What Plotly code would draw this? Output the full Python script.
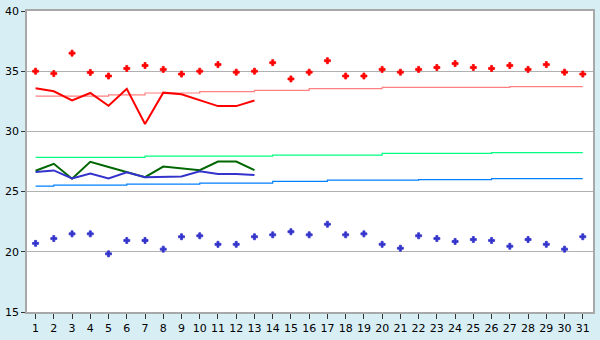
import plotly.graph_objects as go

days = list(range(1, 32))
day_labels = [str(d) for d in days]

red_pts = [35.0, 34.8, 36.5, 34.9, 34.6, 35.23, 35.47, 35.15, 34.76, 35.0,
           35.55, 34.92, 35.0, 35.71, 34.36, 34.92, 35.87, 34.6, 34.6, 35.15,
           34.92, 35.15, 35.31, 35.63, 35.31, 35.23, 35.47, 35.15, 35.55, 34.92, 34.76]
blue_pts = [20.70, 21.1, 21.49, 21.49, 19.83, 20.94, 20.94, 20.22, 21.25, 21.33,
            20.62, 20.62, 21.25, 21.41, 21.67, 21.41, 22.29, 21.41, 21.49, 20.62,
            20.30, 21.33, 21.1, 20.86, 21.02, 20.94, 20.46, 21.02, 20.62, 20.22, 21.25]

line_days = list(range(1, 14))
red_line = [33.59, 33.33, 32.58, 33.19, 32.13, 33.54, 30.62, 33.22, 33.09, 32.62, 32.1, 32.1, 32.56]
green_line = [26.73, 27.31, 26.07, 27.47, 27.05, 26.6, 26.2, 27.08, 26.9, 26.78, 27.5, 27.5, 26.78]
blue_line = [26.62, 26.76, 26.1, 26.5, 26.1, 26.6, 26.2, 26.25, 26.25, 26.68, 26.46, 26.46, 26.38]

pink_trend = [32.93, 32.93, 32.93, 32.93, 33.03, 33.03, 33.19, 33.19, 33.19, 33.3,
              33.3, 33.3, 33.41, 33.41, 33.41, 33.55, 33.55, 33.55, 33.55, 33.65,
              33.65, 33.65, 33.65, 33.65, 33.65, 33.65, 33.72, 33.72, 33.72, 33.72, 33.72]
green_trend = [27.85, 27.85, 27.85, 27.85, 27.85, 27.85, 27.95, 27.95, 27.95, 27.95,
               27.95, 27.95, 27.95, 28.03, 28.03, 28.03, 28.03, 28.03, 28.03, 28.17,
               28.17, 28.17, 28.17, 28.17, 28.17, 28.24, 28.24, 28.24, 28.24, 28.24, 28.24]
blue_trend = [25.46, 25.54, 25.54, 25.54, 25.54, 25.62, 25.62, 25.62, 25.62, 25.70,
              25.70, 25.70, 25.70, 25.85, 25.85, 25.85, 25.95, 25.95, 25.95, 25.95,
              25.95, 26.0, 26.0, 26.0, 26.0, 26.08, 26.08, 26.08, 26.08, 26.08, 26.08]

y_ticks = [15, 20, 25, 30, 35, 40]

fig = go.Figure()
fig.add_trace(go.Scatter(x=days, y=pink_trend, mode="lines",
                         line=dict(color="#FF8080", width=1.2, shape="hv")))
fig.add_trace(go.Scatter(x=days, y=green_trend, mode="lines",
                         line=dict(color="#00FF80", width=1.2, shape="hv")))
fig.add_trace(go.Scatter(x=days, y=blue_trend, mode="lines",
                         line=dict(color="#0080FF", width=1.2, shape="hv")))
fig.add_trace(go.Scatter(x=line_days, y=red_line, mode="lines",
                         line=dict(color="#FF0000", width=2)))
fig.add_trace(go.Scatter(x=line_days, y=green_line, mode="lines",
                         line=dict(color="#006600", width=2)))
fig.add_trace(go.Scatter(x=line_days, y=blue_line, mode="lines",
                         line=dict(color="#3333CC", width=2)))
fig.add_trace(go.Scatter(x=days, y=red_pts, mode="markers",
                         marker=dict(symbol="cross", size=5, color="#FF0000",
                                     line=dict(width=0.8, color="#FF0000"))))
fig.add_trace(go.Scatter(x=days, y=blue_pts, mode="markers",
                         marker=dict(symbol="cross", size=5, color="#3333CC",
                                     line=dict(width=0.8, color="#3333CC"))))

fig.update_layout(
    width=600, height=340,
    margin=dict(l=21, r=5, t=5, b=20),
    paper_bgcolor="#D8EEF5",
    plot_bgcolor="#FFFFFF",
    showlegend=False,
    font=dict(family="DejaVu Sans", size=11, color="#000000"),
)
fig.update_xaxes(
    range=[0.53, 31.56], tickmode="array", tickvals=days, ticktext=day_labels,
    showgrid=False, zeroline=False,
    showline=True, linecolor="#A8A8A8", linewidth=1.5, mirror=True,
    ticks="outside", ticklen=5, tickcolor="#333333", tickwidth=1,
    tickfont=dict(size=11),
)
fig.update_yaxes(
    range=[15, 40], tickmode="array", tickvals=y_ticks,
    showgrid=True, gridcolor="#B0B0B0", gridwidth=1, zeroline=False,
    showline=True, linecolor="#A8A8A8", linewidth=1.5, mirror=True,
    ticks="outside", ticklen=4, tickcolor="#333333", tickwidth=1,
    tickfont=dict(size=11),
)

fig.write_html("out.html")
